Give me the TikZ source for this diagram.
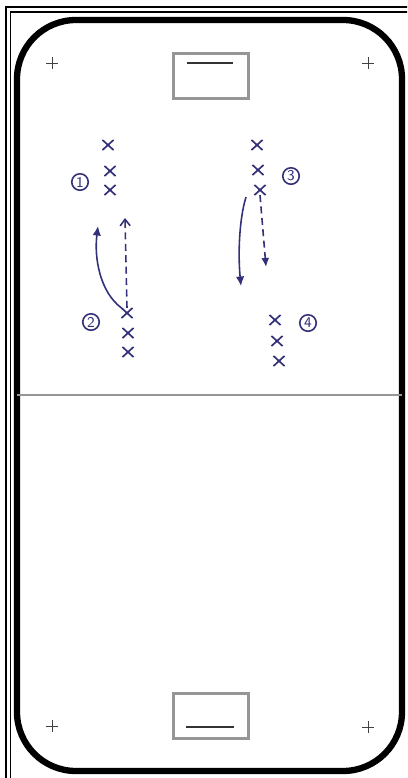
\documentclass[tikz,border=0pt]{standalone}
\usepackage{tikz}
\usetikzlibrary{arrows.meta,shapes.misc,positioning}

\definecolor{ink}{RGB}{50,48,120}
\definecolor{goalgray}{RGB}{150,150,150}

\begin{document}
\begin{tikzpicture}[
        x=0.02cm, y=-0.02cm,
        frameline/.style={draw=black, line width=0.6pt},
        board/.style={draw=black, line width=3.6pt, rounded corners=1.18cm},
        centreline/.style={draw=goalgray, line width=1.6pt},
        goalbox/.style={
            rectangle,
            draw=goalgray,
            line width=1.4pt,
            minimum width=1.5cm,
            minimum height=0.9cm,
            inner sep=0pt
        },
        goalline/.style={draw=black!80, line width=1.1pt},
        faceoff/.style={draw=black!75, line width=0.5pt},
        player/.style={
            cross out,
            draw=ink,
            line width=0.95pt,
            minimum width=0.19cm,
            minimum height=0.17cm,
            inner sep=0pt
        },
        num/.style={
            circle,
            draw=ink,
            line width=0.9pt,
            text=ink,
            minimum size=0.33cm,
            inner sep=0pt,
            font=\sffamily\fontsize{8.5}{8.5}\selectfont
        },
        skate/.style={draw=ink, line width=0.9pt, -{Latex[length=1.9mm, width=1.7mm]}},
        pass/.style={draw=ink, line width=0.9pt, dash pattern=on 4pt off 2.5pt, -{Latex[length=1.8mm, width=1.6mm]}},
        passopen/.style={draw=ink, line width=0.9pt, dash pattern=on 4pt off 2.5pt, -{Straight Barb[length=1.3mm, width=2mm]}}
    ]
        \useasboundingbox (0,0) rectangle (407,778);
        \fill[white] (0,0) rectangle (407,778);
        \clip (0,0) rectangle (407,778);

        % frame round the picture
        \draw[frameline] (6,790) -- (6,7) -- (420,7);
        \draw[frameline] (10.5,790) -- (10.5,12) -- (420,12);

        % rink
        \draw[board] (17,20) rectangle (402,771);
        \draw[centreline] (17,395) -- (402,395);

        \node[goalbox] (topgoal) at (211,76) {};
        \draw[goalline] (187,63) -- (233,63);
        \node[goalbox] (botgoal) at (211,716) {};
        \draw[goalline] (186,727) -- (234,727);

        \foreach \px/\py in {52/63, 368/63, 52/726, 368/727}
            \draw[faceoff] (\px-6,\py) -- (\px+6,\py) (\px,\py-6) -- (\px,\py+6);

        % line 1 and 2
        \node[player] (p11) at (108,145) {};
        \node[player] (p12) at (110,171) {};
        \node[player] (p13) at (110,190) {};
        \node[num] (n1) at (80,182) {1};

        \node[player] (p21) at (127,313) {};
        \node[player] (p22) at (128,333) {};
        \node[player] (p23) at (128,352) {};
        \node[num] (n2) at (91,322) {2};

        \coordinate (lpass) at (125,218);
        \coordinate (lskate) at (98,226);
        \draw[passopen] (p21.north) -- (lpass);
        \draw[skate] (p21.north west) .. controls (100,292) and (94,258) .. (lskate);

        % line 3 and 4
        \node[player] (p31) at (257,145) {};
        \node[player] (p32) at (258,170) {};
        \node[player] (p33) at (260,190) {};
        \node[num] (n3) at (291,176) {3};

        \node[player] (p41) at (275,320) {};
        \node[player] (p42) at (277,341) {};
        \node[player] (p43) at (279,361) {};
        \node[num] (n4) at (308,323) {4};

        \coordinate (rpass) at (266,267);
        \coordinate (rskate) at (241,286);
        \draw[pass] (p33.south) -- (rpass);
        \draw[skate] (246,197) .. controls (239,220) and (238,255) .. (rskate);
    \end{tikzpicture}
\end{document}
